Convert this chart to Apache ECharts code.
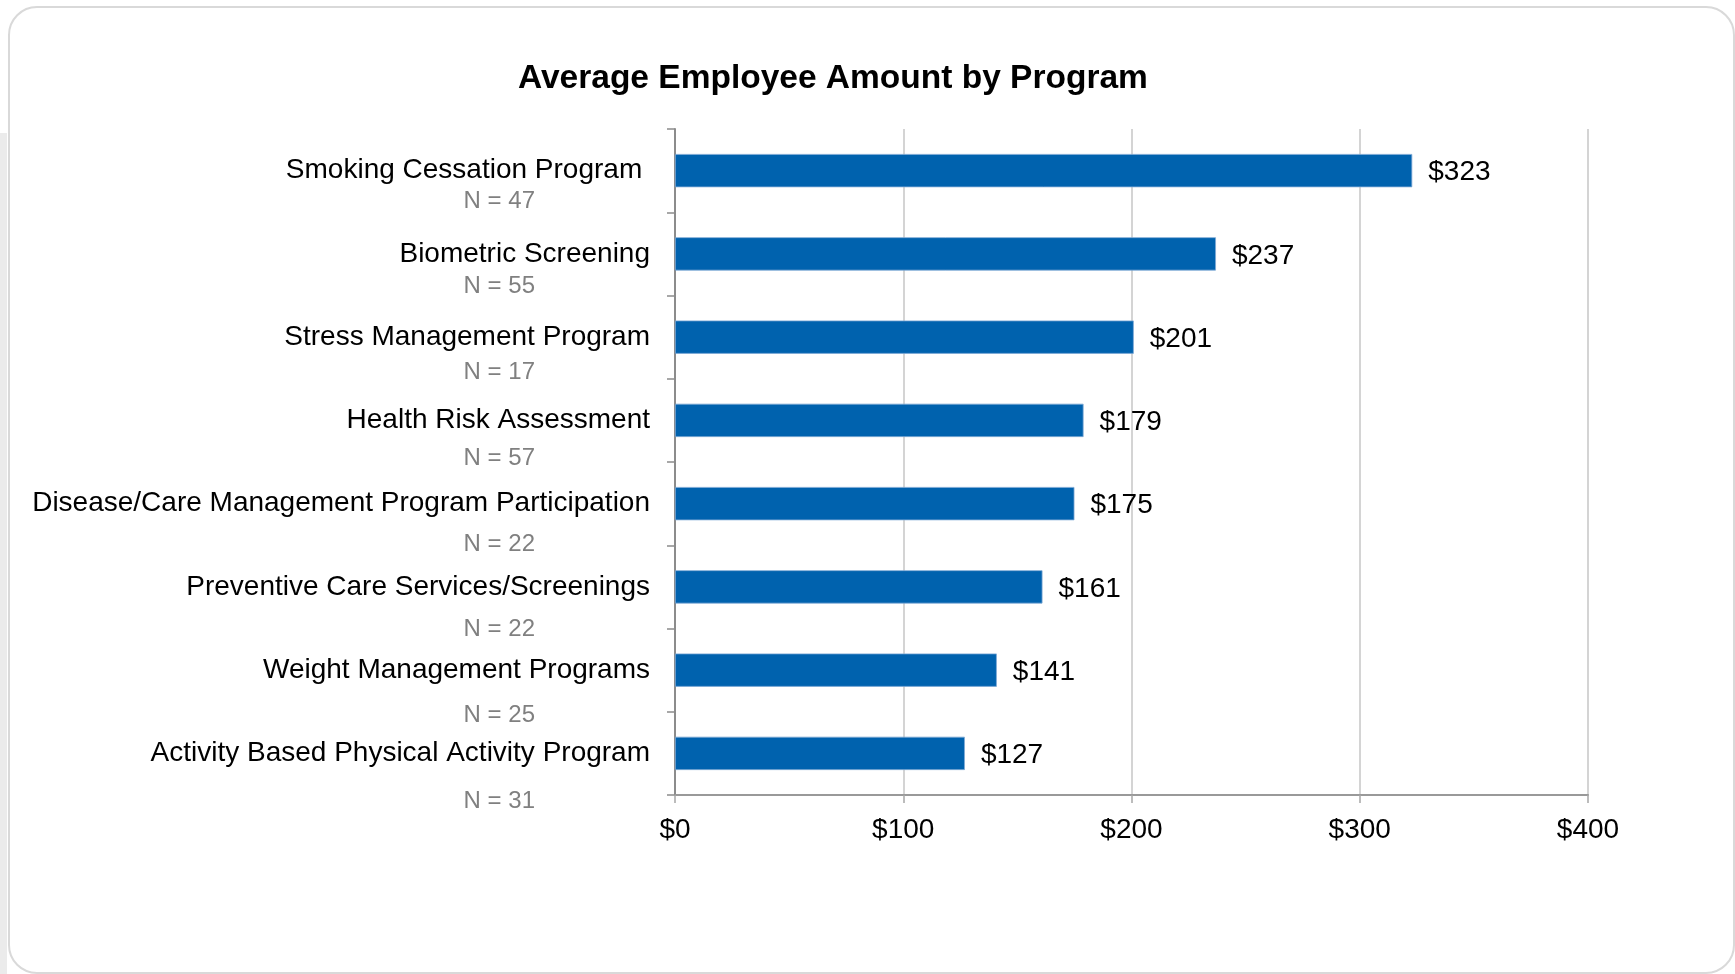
<!DOCTYPE html>
<html>
<head>
<meta charset="utf-8">
<script src="https://cdn.jsdelivr.net/npm/echarts@6/dist/echarts.min.js"></script>
<style>
html,body{margin:0;padding:0;background:#fff;}
#chart{width:1735px;height:974px;}
</style>
</head>
<body>
<div id="chart"></div>
<script>
const titleText = 'Average Employee Amount by Program';
const categories = [
  'Smoking Cessation Program ',
  'Biometric Screening',
  'Stress Management Program',
  'Health Risk Assessment',
  'Disease/Care Management Program Participation',
  'Preventive Care Services/Screenings',
  'Weight Management Programs',
  'Activity Based Physical Activity Program'
];
const sampleSizes = ['N = 47', 'N = 55', 'N = 17', 'N = 57', 'N = 22', 'N = 22', 'N = 25', 'N = 31'];
const amounts = [323, 237, 201, 179, 175, 161, 141, 127];
const axisMin = 0, axisMax = 400, axisStep = 100;

const FONT = "'Liberation Sans', Arial, sans-serif";
const chart = echarts.init(document.getElementById('chart'), null, {renderer: 'canvas'});
chart.setOption({
  backgroundColor: '#ffffff',
  animation: false,
  graphic: [
    {type: 'rect', left: 0, top: 133, shape: {width: 7, height: 841}, style: {fill: '#ebebeb'}, z: -10},
    {type: 'rect', left: 8, top: 6, shape: {width: 1725, height: 966, r: 28}, style: {fill: '#ffffff', stroke: '#d9d9d9', lineWidth: 2}, z: -9}
  ],
  title: {
    text: titleText,
    left: 518, top: 62, padding: 0,
    textStyle: {fontFamily: FONT, fontSize: 33.5, fontWeight: 'bold', color: '#000'}
  },
  grid: [
    {left: 675, top: 129, width: 913, height: 666, containLabel: false},
    {left: 675, top: 158, width: 913, height: 686, containLabel: false}
  ],
  xAxis: [
    {
      type: 'value', gridIndex: 0, min: axisMin, max: axisMax, interval: axisStep,
      axisLine: {show: true, lineStyle: {color: '#999999', width: 2}},
      axisTick: {show: true, length: 8, lineStyle: {color: '#a6a6a6', width: 1.5}},
      splitLine: {show: true, lineStyle: {color: '#c6c6c6', width: 1.5}},
      axisLabel: {formatter: '${value}', margin: 21, fontFamily: FONT, fontSize: 28, color: '#000'}
    },
    {type: 'value', gridIndex: 1, min: axisMin, max: axisMax, show: false}
  ],
  yAxis: [
    {
      type: 'category', gridIndex: 0, data: categories, inverse: true,
      axisLine: {show: true, lineStyle: {color: '#8c8c8c', width: 2}},
      axisTick: {show: true, length: 8, lineStyle: {color: '#8c8c8c', width: 1.5}},
      splitLine: {show: false},
      axisLabel: {margin: 25, fontFamily: FONT, fontSize: 28, color: '#000'}
    },
    {
      type: 'category', gridIndex: 1, data: sampleSizes, inverse: true,
      axisLine: {show: false}, axisTick: {show: false}, splitLine: {show: false},
      axisLabel: {margin: 140, fontFamily: FONT, fontSize: 24, color: '#808080'}
    }
  ],
  series: [{
    type: 'bar',
    xAxisIndex: 0, yAxisIndex: 0,
    data: amounts,
    barCategoryGap: '60%',
    itemStyle: {color: '#0062ae', borderColor: '#7fa9d6', borderWidth: 0.8},
    label: {
      show: true, position: 'right', distance: 16, offset: [0, 2],
      formatter: '${c}',
      fontFamily: FONT, fontSize: 28, color: '#000'
    }
  }]
});
</script>
</body>
</html>
